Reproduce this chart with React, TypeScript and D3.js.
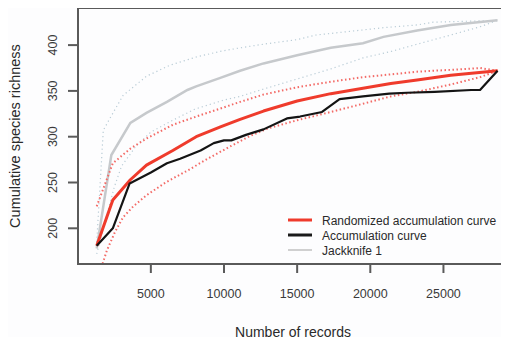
import React, { useEffect, useRef } from 'react';
import * as d3 from 'd3';

// [records, richness]
const randomizedCurve: [number, number][] = [
    [1300, 181], [2400, 231], [3600, 253], [4700, 269], [6500, 285], [8100, 300],
    [9800, 311], [11100, 319], [12700, 328], [15000, 339], [17300, 347], [19500, 353],
    [21400, 358], [23200, 362], [25500, 367], [28700, 372]
];
const randomizedUpper: [number, number][] = [
    [1300, 224], [2400, 271], [3600, 287], [4700, 298], [6500, 313], [8100, 322],
    [9800, 331], [11100, 338], [12700, 346], [15000, 354], [17300, 360], [19500, 365],
    [21400, 368], [23200, 371], [25500, 373], [27500, 375], [28700, 372]
];
const randomizedLower: [number, number][] = [
    [1300, 150], [1650, 159], [2000, 176], [2550, 196], [3100, 212], [3800, 224],
    [4700, 236], [6000, 250], [7500, 263], [9000, 277], [10500, 290], [11800, 301],
    [13000, 309], [15000, 318], [17300, 327], [19500, 336], [21400, 344], [23200, 349],
    [25500, 357], [27500, 365], [28700, 372]
];
const accumulationCurve: [number, number][] = [
    [1300, 181], [2400, 200], [3550, 249], [5000, 261], [6100, 271], [7000, 276],
    [8400, 285], [9300, 293], [10000, 296], [10500, 296], [11500, 302], [12700, 308],
    [14300, 320], [15200, 322], [16700, 327], [17900, 341], [19500, 344], [21300, 347],
    [22500, 348], [24400, 349], [26900, 351], [27500, 351], [28700, 372]
];
const jackknife: [number, number][] = [
    [1300, 178], [2300, 280], [3600, 315], [4700, 326], [6100, 338], [7500, 351],
    [8100, 355], [9700, 364], [11100, 372], [12700, 380], [15000, 389], [17300, 397],
    [19500, 402], [20900, 409], [23200, 416], [25500, 422], [28700, 427]
];
const jackknifeUpper: [number, number][] = [
    [1300, 185], [1750, 307], [2200, 320], [3100, 345], [4700, 366], [6300, 378],
    [8100, 387], [9700, 393], [11100, 397], [12700, 401], [15000, 406], [16300, 411],
    [18600, 415], [20900, 419], [23200, 422], [24300, 425], [28700, 427]
];
const jackknifeLower: [number, number][] = [
    [1300, 172], [2000, 215], [2500, 245], [3000, 268], [4000, 290], [5000, 305],
    [6500, 318], [8000, 330], [10000, 340], [11100, 344], [12700, 352], [15000, 363],
    [17300, 374], [19500, 386], [21400, 393], [23200, 401], [25500, 411], [27500, 420],
    [28700, 427]
];

const xTicks = [5000, 10000, 15000, 20000, 25000];
const yTicks = [200, 250, 300, 350, 400];
const legendLabels = ['Randomized accumulation curve', 'Accumulation curve', 'Jackknife 1'];

const RED = '#ef3b2c';
const GREY = '#c6c9cc';

const App = () => {
    const ref = useRef<SVGSVGElement>(null);

    useEffect(() => {
        const width = 509;
        const height = 341;
        const plot = { left: 78, top: 8, right: 530, bottom: 264 };

        const svg = d3.select(ref.current);
        svg.selectAll('*').remove();
        svg.attr('width', width).attr('height', height);

        const xScale = d3.scaleLinear().domain([0, 30000]).range([77.7, 77.7 + 30000 * 0.01463]);
        const yScale = d3.scaleLinear().domain([200, 400]).range([228.3, 45.1]);

        svg.append('rect')
            .attr('width', width).attr('height', height)
            .attr('fill', '#fdfdfe');

        svg.append('clipPath').attr('id', 'plotClip')
            .append('rect')
            .attr('x', plot.left).attr('y', plot.top)
            .attr('width', plot.right - plot.left).attr('height', plot.bottom - plot.top);

        const lineGen = d3.line<[number, number]>()
            .x(d => xScale(d[0]))
            .y(d => yScale(d[1]));

        const lines = svg.append('g').attr('clip-path', 'url(#plotClip)');

        // grey jackknife band
        [jackknifeUpper, jackknifeLower].forEach(s => {
            lines.append('path')
                .attr('d', lineGen(s))
                .attr('fill', 'none')
                .attr('stroke', '#b9ccd6')
                .attr('stroke-width', 1.2)
                .attr('stroke-dasharray', '1.2,3');
        });
        lines.append('path')
            .attr('d', lineGen(jackknife))
            .attr('fill', 'none')
            .attr('stroke', GREY)
            .attr('stroke-width', 2.5);

        // randomized band
        [randomizedUpper, randomizedLower].forEach(s => {
            lines.append('path')
                .attr('d', lineGen(s))
                .attr('fill', 'none')
                .attr('stroke', '#f36a66')
                .attr('stroke-width', 2)
                .attr('stroke-dasharray', '1.5,2.5');
        });
        lines.append('path')
            .attr('d', lineGen(randomizedCurve))
            .attr('fill', 'none')
            .attr('stroke', RED)
            .attr('stroke-width', 3)
            .attr('stroke-linejoin', 'round');

        lines.append('path')
            .attr('d', lineGen(accumulationCurve))
            .attr('fill', 'none')
            .attr('stroke', '#141414')
            .attr('stroke-width', 2.2)
            .attr('stroke-linejoin', 'round');

        // frame
        svg.append('rect')
            .attr('x', plot.left).attr('y', plot.top)
            .attr('width', plot.right - plot.left).attr('height', plot.bottom - plot.top)
            .attr('fill', 'none')
            .attr('stroke', '#5a5a5a')
            .attr('stroke-width', 2);

        const font = '"Liberation Sans", Arial, sans-serif';

        const gX = svg.append('g');
        xTicks.forEach(t => {
            gX.append('line')
                .attr('x1', xScale(t)).attr('x2', xScale(t))
                .attr('y1', plot.bottom).attr('y2', plot.bottom + 9)
                .attr('stroke', '#5a5a5a').attr('stroke-width', 2);
            gX.append('text')
                .attr('x', xScale(t)).attr('y', 298)
                .attr('text-anchor', 'middle')
                .attr('font-family', font).attr('font-size', 12.5)
                .attr('fill', '#3a3a3a')
                .text(t);
        });

        const gY = svg.append('g');
        yTicks.forEach(t => {
            gY.append('line')
                .attr('x1', plot.left - 10).attr('x2', plot.left)
                .attr('y1', yScale(t)).attr('y2', yScale(t))
                .attr('stroke', '#5a5a5a').attr('stroke-width', 2);
            gY.append('text')
                .attr('transform', `translate(57, ${yScale(t)}) rotate(-90)`)
                .attr('text-anchor', 'middle')
                .attr('font-family', font).attr('font-size', 12.5)
                .attr('fill', '#3a3a3a')
                .text(t);
        });

        svg.append('text')
            .attr('x', 293).attr('y', 337)
            .attr('text-anchor', 'middle')
            .attr('font-family', font).attr('font-size', 14)
            .attr('fill', '#2a2a2a')
            .text('Number of records');

        svg.append('text')
            .attr('transform', 'translate(20, 136) rotate(-90)')
            .attr('text-anchor', 'middle')
            .attr('font-family', font).attr('font-size', 14.5)
            .attr('fill', '#2a2a2a')
            .text('Cumulative species richness');

        const legendColors = [RED, '#1a1a1a', '#d0d0d0'];
        const legendWidths = [3, 3, 2];
        const legend = svg.append('g');
        legendLabels.forEach((label, i) => {
            const y = 220 + i * 15;
            legend.append('line')
                .attr('x1', 288).attr('x2', 312)
                .attr('y1', y).attr('y2', y)
                .attr('stroke', legendColors[i])
                .attr('stroke-width', legendWidths[i]);
            legend.append('text')
                .attr('x', 322).attr('y', y + 4.5)
                .attr('font-family', font).attr('font-size', 12)
                .attr('fill', '#2a2a2a')
                .text(label);
        });
    }, []);

    return (
        <div style={{ margin: -8 }}>
            <svg ref={ref}></svg>
        </div>
    );
}

export default App;
